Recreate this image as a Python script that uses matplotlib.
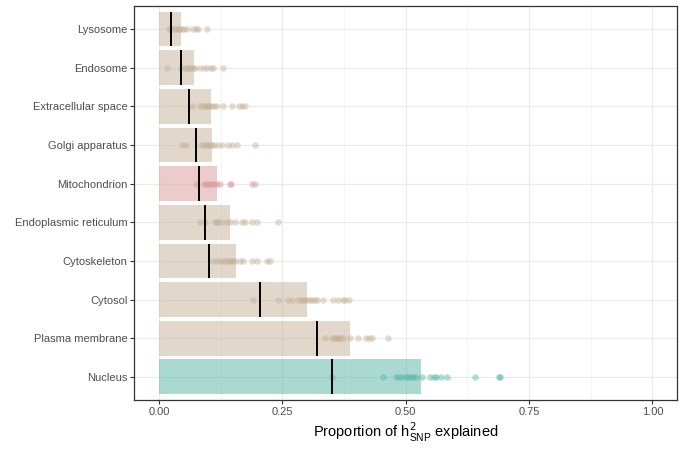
import numpy as np
import matplotlib
matplotlib.use("Agg")
import matplotlib.pyplot as plt

plt.rcParams['font.family'] = ['Liberation Sans', 'DejaVu Sans']

# categories, top to bottom as shown
compartments = ["Lysosome", "Endosome", "Extracellular space", "Golgi apparatus",
                "Mitochondrion", "Endoplasmic reticulum", "Cytoskeleton", "Cytosol",
                "Plasma membrane", "Nucleus"]

# bar height (proportion of h2 explained) and the black marker line
bar_values = [0.045, 0.070, 0.105, 0.108, 0.117, 0.144, 0.156, 0.300, 0.387, 0.530]
line_values = [0.025, 0.045, 0.060, 0.075, 0.080, 0.092, 0.101, 0.204, 0.320, 0.351]

# individual points per compartment
points = {
    "Lysosome": [0.020, 0.025, 0.030, 0.034, 0.038, 0.042, 0.046, 0.050, 0.056, 0.068,
                 0.074, 0.078, 0.098],
    "Endosome": [0.016, 0.045, 0.052, 0.057, 0.060, 0.064, 0.068, 0.072, 0.083, 0.090,
                 0.097, 0.105, 0.110, 0.130],
    "Extracellular space": [0.066, 0.082, 0.088, 0.093, 0.097, 0.100, 0.104, 0.108, 0.112,
                            0.118, 0.130, 0.147, 0.162, 0.168, 0.174],
    "Golgi apparatus": [0.046, 0.055, 0.084, 0.090, 0.095, 0.099, 0.103, 0.108, 0.112,
                        0.120, 0.127, 0.140, 0.147, 0.157, 0.194],
    "Mitochondrion": [0.074, 0.090, 0.096, 0.100, 0.104, 0.108, 0.113, 0.118, 0.123,
                      0.143, 0.145, 0.188, 0.195],
    "Endoplasmic reticulum": [0.083, 0.092, 0.113, 0.117, 0.120, 0.128, 0.137, 0.144,
                              0.154, 0.167, 0.174, 0.188, 0.198, 0.242],
    "Cytoskeleton": [0.110, 0.118, 0.125, 0.132, 0.137, 0.141, 0.145, 0.149, 0.154,
                     0.163, 0.171, 0.188, 0.198, 0.218, 0.225],
    "Cytosol": [0.191, 0.242, 0.262, 0.269, 0.282, 0.287, 0.292, 0.296, 0.300, 0.305,
                0.310, 0.315, 0.320, 0.333, 0.352, 0.362, 0.372, 0.377, 0.385],
    "Plasma membrane": [0.336, 0.350, 0.355, 0.358, 0.361, 0.364, 0.367, 0.372, 0.387,
                        0.403, 0.420, 0.426, 0.431, 0.463],
    "Nucleus": [0.350, 0.453, 0.481, 0.487, 0.492, 0.500, 0.505, 0.510, 0.515, 0.520,
                0.532, 0.549, 0.557, 0.562, 0.572, 0.584, 0.641, 0.688, 0.692],
}

highlight = {"Mitochondrion": "#D9999B", "Nucleus": "#57B5A7"}
base_col = "#C5B199"

fig = plt.figure(figsize=(6.86, 4.49), dpi=100)
ax = fig.add_axes([0.196, 0.109, 0.791, 0.878])

n = len(compartments)
ypos = np.arange(n)

for i, name in enumerate(compartments):
    col = highlight.get(name, base_col)
    ax.barh(ypos[i], bar_values[i], height=0.9, color=col, alpha=0.5, lw=0, zorder=2)
    ax.plot([line_values[i]] * 2, [ypos[i] - 0.45, ypos[i] + 0.45], color="black",
            lw=1.4, zorder=4, solid_capstyle="butt")
    xs = points[name]
    ax.scatter(xs, [ypos[i]] * len(xs), s=22, color=col, alpha=0.45, lw=0, zorder=3)

ax.set_xlim(-0.05, 1.05)
ax.set_ylim(n - 1 + 0.6, -0.6)
ax.set_yticks(ypos)
ax.set_yticklabels(compartments)
ax.set_xticks([0, 0.25, 0.5, 0.75, 1.0])
ax.set_xticklabels(["0.00", "0.25", "0.50", "0.75", "1.00"])
ax.set_xticks([0.125, 0.375, 0.625, 0.875], minor=True)

ax.grid(True, which="major", color="#EBEBEB", lw=0.9, zorder=0)
ax.grid(True, which="minor", axis="x", color="#F2F2F2", lw=0.5, zorder=0)
ax.set_axisbelow(True)
ax.tick_params(which="major", length=3, width=0.8, color="#333333",
               labelsize=8, labelcolor="#4D4D4D", pad=2)
ax.tick_params(which="minor", length=0)
for sp in ax.spines.values():
    sp.set_color("#333333")
    sp.set_linewidth(0.9)

ax.set_xlabel(r"Proportion of h$^2_\mathregular{SNP}$ explained", fontsize=10.5, labelpad=3)

fig.savefig("out.png", dpi=100)
